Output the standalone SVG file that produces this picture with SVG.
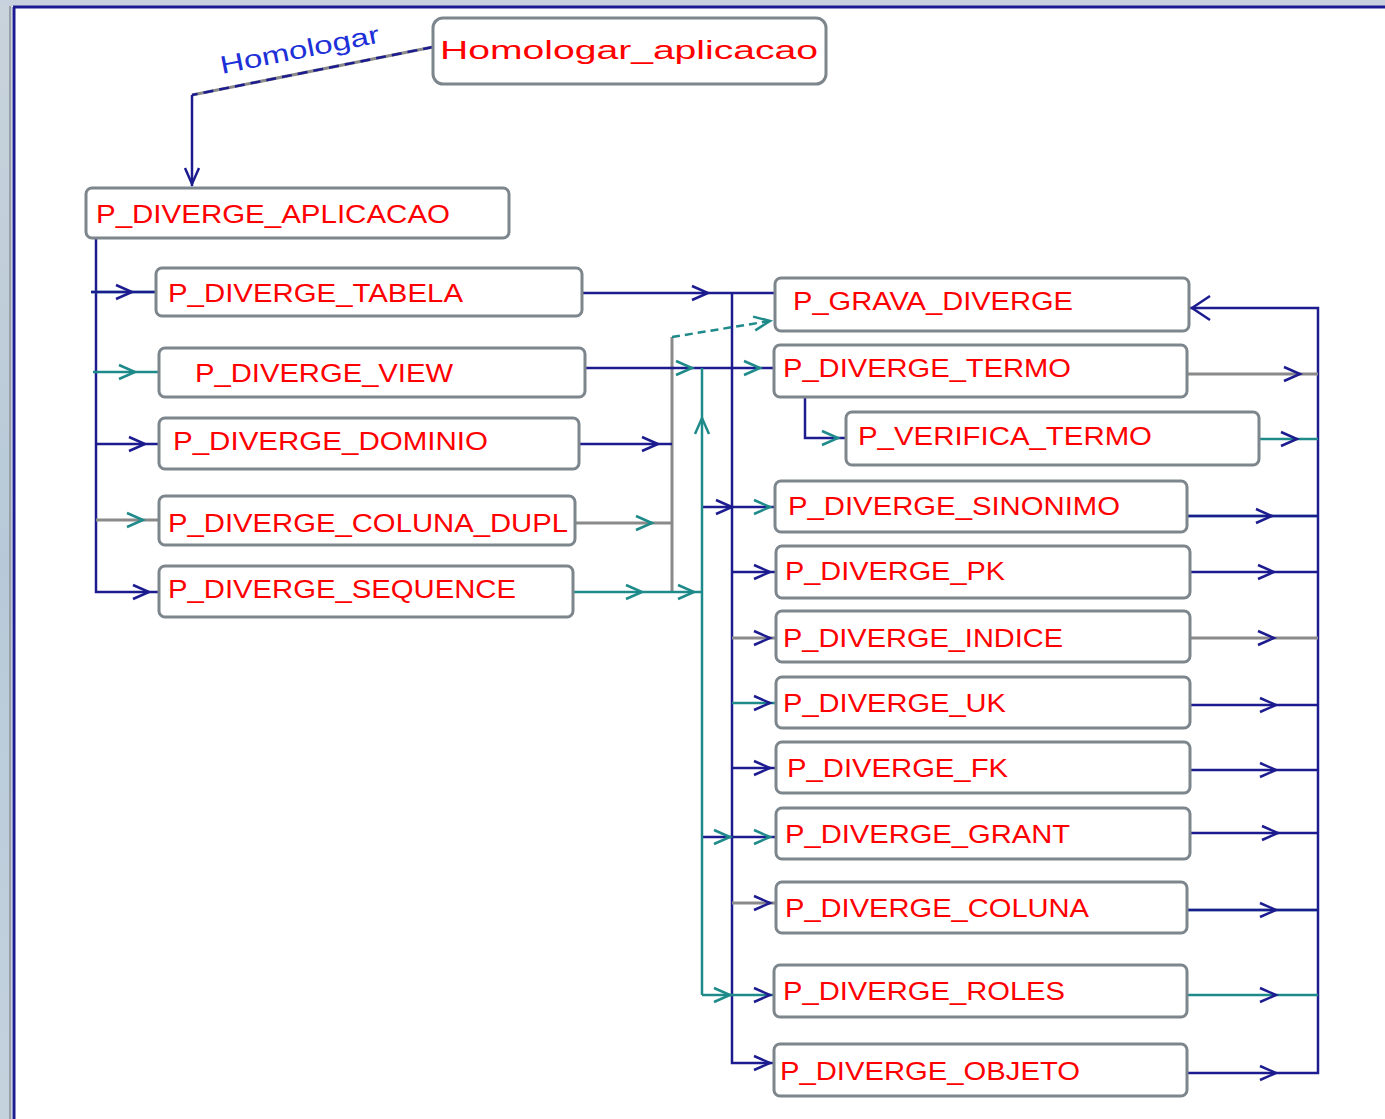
<svg xmlns="http://www.w3.org/2000/svg" xmlns:xlink="http://www.w3.org/1999/xlink" width="1385" height="1119" viewBox="0 0 1385 1119">
<style>
.box{fill:#fff;stroke:#7d868c;stroke-width:3}
.lbl{fill:#ff0000;font-family:"Liberation Sans",Arial,sans-serif;font-size:25px}
.n{fill:none;stroke:#1c1c90;stroke-width:2.5}
.t{fill:none;stroke:#1f8a8a;stroke-width:2.5}
.g{fill:none;stroke:#8a8a8a;stroke-width:3}
.ah{fill:none;stroke:#1c1c90;stroke-width:2.5}
.aht{fill:none;stroke:#1f8a8a;stroke-width:2.5}
</style>
<defs>
<path id="ar" d="M-16,-7 L0,0 L-16,7"/>
<linearGradient id="side" x1="0" y1="0" x2="0" y2="1">
<stop offset="0" stop-color="#c9d3db"/>
<stop offset="0.5" stop-color="#b7c9d8"/>
<stop offset="1" stop-color="#c4d2de"/>
</linearGradient>
</defs>
<rect x="0" y="0" width="1385" height="1119" fill="#ffffff"/>
<rect x="0" y="0" width="12" height="1119" fill="url(#side)"/>
<rect x="0" y="0" width="1385" height="6" fill="#c8d2de"/>
<line x1="10" y1="6" x2="10" y2="1119" stroke="#9aa0a8" stroke-width="2"/>
<line x1="14" y1="7" x2="14" y2="1119" stroke="#1c1c90" stroke-width="3"/>
<line x1="13" y1="7" x2="1385" y2="7" stroke="#1c1c90" stroke-width="3"/>

<g id="connectors">
<!-- Homologar edge -->
<polyline class="g" points="433,47 192,95" stroke-width="2.5"/>
<polyline class="n" points="433,47 192,95" stroke-dasharray="10,6"/>
<polyline class="n" points="192,95 192,186"/>
<use xlink:href="#ar" class="ah" transform="translate(192,184) rotate(90)"/>
<text x="222" y="74" transform="rotate(-11.3 222 74)" font-family="Liberation Sans, Arial, sans-serif" font-size="25" fill="#2030d8" textLength="162" lengthAdjust="spacingAndGlyphs">Homologar</text>

<!-- left bus -->
<polyline class="n" points="96,238 96,592 159,592"/>
<line class="t" x1="91" y1="292" x2="156" y2="292" stroke-width="3"/>
<line class="n" x1="91" y1="292" x2="156" y2="292" stroke-width="1.5"/>
<line class="t" x1="93" y1="372" x2="159" y2="372"/>
<line class="n" x1="96" y1="444" x2="159" y2="444"/>
<line class="g" x1="96" y1="520" x2="159" y2="520"/>
<use xlink:href="#ar" class="ah" x="132" y="292"/>
<use xlink:href="#ar" class="aht" x="135" y="372"/>
<use xlink:href="#ar" class="ah" x="145" y="444"/>
<use xlink:href="#ar" class="aht" x="143" y="520"/>
<use xlink:href="#ar" class="ah" x="149" y="592"/>

<!-- TABELA out and navy bus x=732 -->
<line class="n" x1="582" y1="293" x2="776" y2="293"/>
<use xlink:href="#ar" class="ah" x="708" y="293"/>
<polyline class="n" points="732,293 732,1063 774,1063"/>
<use xlink:href="#ar" class="ah" x="770" y="1063"/>
<line class="n" x1="702" y1="507" x2="775" y2="507"/>
<use xlink:href="#ar" class="ah" x="732" y="507"/>
<use xlink:href="#ar" class="aht" x="770" y="507"/>
<line class="n" x1="732" y1="572" x2="776" y2="572"/>
<use xlink:href="#ar" class="ah" x="770" y="572"/>
<line class="g" x1="732" y1="638" x2="776" y2="638"/>
<use xlink:href="#ar" class="ah" x="770" y="638"/>
<line class="t" x1="732" y1="703" x2="776" y2="703"/>
<use xlink:href="#ar" class="ah" x="770" y="703"/>
<line class="n" x1="732" y1="768" x2="776" y2="768"/>
<use xlink:href="#ar" class="ah" x="770" y="768"/>
<line class="n" x1="702" y1="837" x2="776" y2="837"/>
<use xlink:href="#ar" class="aht" x="730" y="837"/>
<use xlink:href="#ar" class="aht" x="770" y="837"/>
<line class="g" x1="732" y1="903" x2="776" y2="903"/>
<use xlink:href="#ar" class="ah" x="770" y="903"/>
<line class="t" x1="702" y1="995" x2="774" y2="995"/>
<use xlink:href="#ar" class="aht" x="730" y="995"/>
<use xlink:href="#ar" class="ah" x="770" y="995"/>

<!-- gray collector x=672 -->
<line class="g" x1="672" y1="337" x2="672" y2="592"/>
<line class="t" x1="672" y1="337" x2="776" y2="320" stroke-dasharray="8,5"/>
<use xlink:href="#ar" class="aht" transform="translate(770,321) rotate(-9)"/>
<line class="n" x1="579" y1="444" x2="672" y2="444"/>
<use xlink:href="#ar" class="ah" x="658" y="444"/>
<line class="g" x1="575" y1="523" x2="672" y2="523"/>
<use xlink:href="#ar" class="aht" x="652" y="523"/>
<line class="t" x1="573" y1="592" x2="702" y2="592"/>
<use xlink:href="#ar" class="aht" x="642" y="592"/>
<use xlink:href="#ar" class="aht" x="694" y="592"/>

<!-- VIEW out and teal bus x=702 -->
<line class="n" x1="585" y1="368" x2="774" y2="368"/>
<use xlink:href="#ar" class="aht" x="692" y="368"/>
<use xlink:href="#ar" class="aht" x="760" y="368"/>
<line class="t" x1="702" y1="368" x2="702" y2="995" stroke-width="3"/>
<use xlink:href="#ar" class="aht" transform="translate(702,418) rotate(-90)"/>

<!-- TERMO to VERIFICA -->
<polyline class="n" points="805,397 805,438 847,438"/>
<use xlink:href="#ar" class="aht" x="838" y="438"/>

<!-- right bus -->
<polyline class="n" points="1190,308 1318,308 1318,1073 1187,1073" stroke-width="3"/>
<path class="ah" d="M1210,296 L1192,308 L1210,320"/>
<line class="g" x1="1187" y1="374" x2="1318" y2="374"/>
<use xlink:href="#ar" class="ah" x="1300" y="374"/>
<line class="t" x1="1259" y1="439" x2="1318" y2="439"/>
<use xlink:href="#ar" class="ah" x="1297" y="439"/>
<line class="t" x1="1187" y1="516" x2="1318" y2="516" stroke-width="3.5"/>
<line class="n" x1="1187" y1="516" x2="1318" y2="516" stroke-width="2"/>
<use xlink:href="#ar" class="ah" x="1272" y="516"/>
<line class="n" x1="1190" y1="572" x2="1318" y2="572"/>
<use xlink:href="#ar" class="ah" x="1274" y="572"/>
<line class="g" x1="1190" y1="638" x2="1318" y2="638"/>
<use xlink:href="#ar" class="ah" x="1274" y="638"/>
<line class="n" x1="1190" y1="705" x2="1318" y2="705"/>
<use xlink:href="#ar" class="ah" x="1276" y="705"/>
<line class="n" x1="1190" y1="770" x2="1318" y2="770"/>
<use xlink:href="#ar" class="ah" x="1276" y="770"/>
<line class="n" x1="1190" y1="833" x2="1318" y2="833"/>
<use xlink:href="#ar" class="ah" x="1278" y="833"/>
<line class="t" x1="1187" y1="910" x2="1318" y2="910" stroke-width="3.5"/>
<line class="n" x1="1187" y1="910" x2="1318" y2="910" stroke-width="2"/>
<use xlink:href="#ar" class="ah" x="1276" y="910"/>
<line class="t" x1="1187" y1="995" x2="1318" y2="995"/>
<use xlink:href="#ar" class="ah" x="1276" y="995"/>
<use xlink:href="#ar" class="ah" x="1276" y="1073"/>
</g>

<g id="n-homologar"><rect class="box" x="433" y="18" width="393" height="66" rx="10"/><text class="lbl" x="440" y="59" font-size="33" textLength="378" lengthAdjust="spacingAndGlyphs">Homologar_aplicacao</text></g>
<g id="n-aplicacao"><rect class="box" x="86" y="188" width="423" height="50" rx="6"/><text class="lbl" x="96" y="223" textLength="354" lengthAdjust="spacingAndGlyphs">P_DIVERGE_APLICACAO</text></g>
<g id="n-tabela"><rect class="box" x="156" y="268" width="426" height="48" rx="6"/><text class="lbl" x="168" y="302" textLength="295" lengthAdjust="spacingAndGlyphs">P_DIVERGE_TABELA</text></g>
<g id="n-view"><rect class="box" x="159" y="348" width="426" height="49" rx="6"/><text class="lbl" x="195" y="382" textLength="258" lengthAdjust="spacingAndGlyphs">P_DIVERGE_VIEW</text></g>
<g id="n-dominio"><rect class="box" x="159" y="418" width="420" height="51" rx="6"/><text class="lbl" x="173" y="450" textLength="315" lengthAdjust="spacingAndGlyphs">P_DIVERGE_DOMINIO</text></g>
<g id="n-coluna-dupl"><rect class="box" x="159" y="496" width="416" height="49" rx="6"/><text class="lbl" x="168" y="532" textLength="400" lengthAdjust="spacingAndGlyphs">P_DIVERGE_COLUNA_DUPL</text></g>
<g id="n-sequence"><rect class="box" x="159" y="566" width="414" height="51" rx="6"/><text class="lbl" x="168" y="598" textLength="348" lengthAdjust="spacingAndGlyphs">P_DIVERGE_SEQUENCE</text></g>

<g id="n-grava"><rect class="box" x="775" y="278" width="414" height="53" rx="6"/><text class="lbl" x="793" y="310" textLength="280" lengthAdjust="spacingAndGlyphs">P_GRAVA_DIVERGE</text></g>
<g id="n-termo"><rect class="box" x="774" y="345" width="413" height="52" rx="6"/><text class="lbl" x="783" y="377" textLength="288" lengthAdjust="spacingAndGlyphs">P_DIVERGE_TERMO</text></g>
<g id="n-verifica"><rect class="box" x="846" y="412" width="413" height="53" rx="6"/><text class="lbl" x="858" y="445" textLength="294" lengthAdjust="spacingAndGlyphs">P_VERIFICA_TERMO</text></g>
<g id="n-sinonimo"><rect class="box" x="775" y="481" width="412" height="51" rx="6"/><text class="lbl" x="788" y="515" textLength="332" lengthAdjust="spacingAndGlyphs">P_DIVERGE_SINONIMO</text></g>
<g id="n-pk"><rect class="box" x="776" y="546" width="414" height="52" rx="6"/><text class="lbl" x="785" y="580" textLength="220" lengthAdjust="spacingAndGlyphs">P_DIVERGE_PK</text></g>
<g id="n-indice"><rect class="box" x="776" y="611" width="414" height="51" rx="6"/><text class="lbl" x="783" y="647" textLength="280" lengthAdjust="spacingAndGlyphs">P_DIVERGE_INDICE</text></g>
<g id="n-uk"><rect class="box" x="776" y="677" width="414" height="51" rx="6"/><text class="lbl" x="783" y="712" textLength="223" lengthAdjust="spacingAndGlyphs">P_DIVERGE_UK</text></g>
<g id="n-fk"><rect class="box" x="776" y="742" width="414" height="51" rx="6"/><text class="lbl" x="787" y="777" textLength="221" lengthAdjust="spacingAndGlyphs">P_DIVERGE_FK</text></g>
<g id="n-grant"><rect class="box" x="776" y="808" width="414" height="51" rx="6"/><text class="lbl" x="785" y="843" textLength="285" lengthAdjust="spacingAndGlyphs">P_DIVERGE_GRANT</text></g>
<g id="n-coluna"><rect class="box" x="776" y="882" width="411" height="51" rx="6"/><text class="lbl" x="785" y="917" textLength="304" lengthAdjust="spacingAndGlyphs">P_DIVERGE_COLUNA</text></g>
<g id="n-roles"><rect class="box" x="774" y="965" width="413" height="52" rx="6"/><text class="lbl" x="783" y="1000" textLength="282" lengthAdjust="spacingAndGlyphs">P_DIVERGE_ROLES</text></g>
<g id="n-objeto"><rect class="box" x="774" y="1044" width="413" height="52" rx="6"/><text class="lbl" x="780" y="1080" textLength="300" lengthAdjust="spacingAndGlyphs">P_DIVERGE_OBJETO</text></g>
</svg>
